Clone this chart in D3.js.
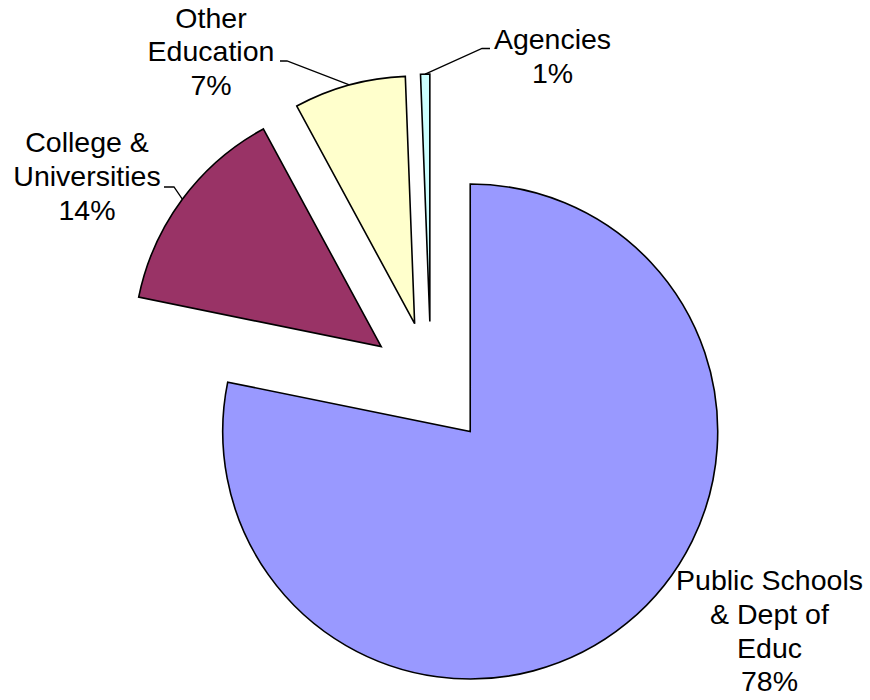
<!DOCTYPE html>
<html>
<head>
<meta charset="utf-8">
<script src="https://cdn.jsdelivr.net/npm/d3@7"></script>
<style>
  html, body { margin: 0; padding: 0; background: #ffffff; }
  svg { display: block; }
  text { font-family: "Liberation Sans", Arial, "DejaVu Sans", sans-serif; fill: #000; }
</style>
</head>
<body>
<svg id="chart" width="870" height="700"></svg>
<script>
// Share of spending by recipient (percent)
const categories = ["Public Schools & Dept of Educ", "College & Universities", "Other Education", "Agencies"];
const shares = [78.2, 13.9, 7.3, 0.6];
// Category names as they wrap in the labels
const nameLines = [
  ["Public Schools", "& Dept of", "Educ"],
  ["College &", "Universities"],
  ["Other", "Education"],
  ["Agencies"]
];

const sliceColors = ["#9999FF", "#993366", "#FFFFCC", "#CCFFFF"];

// Geometry of the exploded pie
const cx = 431, cy = 383.5, radius = 247.5, explode = 62;
const fontSize = 28.5, lineStep = 33.8;

// Label placement: text centre x, first baseline y, optional leader elbow
const labelLayout = [
  { x: 769.5, y: 590, elbow: null },
  { x: 87,    y: 152, elbow: [[174, 187], [164, 187]] },
  { x: 211,   y: 27.5, elbow: [[287, 61], [280, 61]] },
  { x: 552.5, y: 49,  elbow: [[482, 48.5], [490, 48.5]] }
];

const data = categories.map((c, i) => ({ name: c, value: shares[i], lines: nameLines[i], color: sliceColors[i], layout: labelLayout[i] }));

const svg = d3.select("#chart");

const pie = d3.pie().sort(null).value(d => d.value).startAngle(0).endAngle(2 * Math.PI);
const arcs = pie(data);

const arc = d3.arc().innerRadius(0).outerRadius(radius);

const offset = a => {
  const mid = (a.startAngle + a.endAngle) / 2;
  return [cx + explode * Math.sin(mid), cy - explode * Math.cos(mid)];
};

// Slices
svg.append("g")
  .selectAll("path")
  .data(arcs)
  .join("path")
  .attr("transform", a => `translate(${offset(a)})`)
  .attr("d", arc)
  .attr("fill", a => a.data.color)
  .attr("stroke", "#000")
  .attr("stroke-width", 1.6)
  .attr("stroke-linejoin", "miter");

// Leader lines from the rim at each slice's mid-angle
const leaders = svg.append("g");
arcs.forEach(a => {
  const L = a.data.layout;
  if (!L.elbow) return;
  const [ox, oy] = offset(a);
  const mid = (a.startAngle + a.endAngle) / 2;
  const rim = [ox + radius * Math.sin(mid), oy - radius * Math.cos(mid)];
  leaders.append("path")
    .attr("d", d3.line()([rim, ...L.elbow]))
    .attr("fill", "none")
    .attr("stroke", "#000")
    .attr("stroke-width", 1.3);
});

// Labels: name lines followed by the rounded percentage
const labels = svg.append("g");
arcs.forEach(a => {
  const L = a.data.layout;
  const lines = [...a.data.lines, Math.round(a.data.value) + "%"];
  const t = labels.append("text")
    .attr("text-anchor", "middle")
    .attr("font-size", fontSize);
  lines.forEach((s, i) => {
    t.append("tspan").attr("x", L.x).attr("y", L.y + i * lineStep).text(s);
  });
});
</script>
</body>
</html>
